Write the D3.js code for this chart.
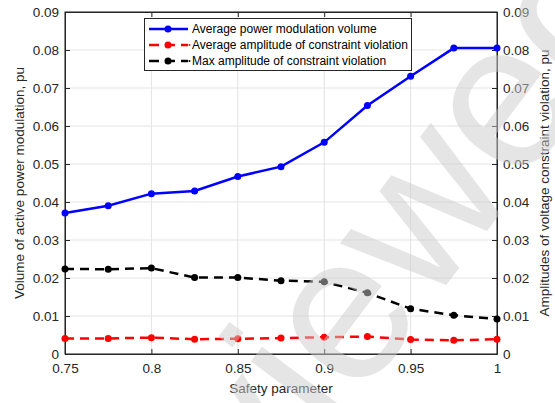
<!DOCTYPE html>
<html>
<head>
<meta charset="utf-8">
<script src="https://cdn.jsdelivr.net/npm/d3@7/dist/d3.min.js"></script>
<style>
    body { margin: 0; background: #fff; }
    svg { display: block; font-family: "Liberation Sans", Arial, sans-serif; }
    .grid line { stroke: #e3e3e3; stroke-width: 1px; }
    .tick text { fill: #262626; font-size: 13.5px; }
    .axis-title { fill: #262626; font-size: 13.5px; }
    .legend text { fill: #000; font-size: 12px; }
</style>
</head>
<body>
<div id="chart"></div>
<script>
var safety = [0.75, 0.775, 0.8, 0.825, 0.85, 0.875, 0.9, 0.925, 0.95, 0.975, 1];
var avgPower = [0.0371, 0.0390, 0.0422, 0.0429, 0.0467, 0.0493, 0.0557, 0.0654, 0.0731, 0.0805, 0.0805];
var avgViolation = [0.0041, 0.0041, 0.0043, 0.0039, 0.0040, 0.0042, 0.0044, 0.0046, 0.0038, 0.0036, 0.0039];
var maxViolation = [0.0224, 0.0223, 0.0226, 0.0201, 0.0201, 0.0193, 0.0190, 0.0161, 0.0119, 0.0102, 0.0092];
var xTicks = [0.75, 0.8, 0.85, 0.9, 0.95, 1];
var yTicks = [0, 0.01, 0.02, 0.03, 0.04, 0.05, 0.06, 0.07, 0.08, 0.09];
var seriesNames = ["Average power modulation volume", "Average amplitude of constraint violation", "Max amplitude of constraint violation"];

var width = 555, height = 403;
var margin = {top: 12, right: 58, bottom: 49, left: 65};
var w = width - margin.left - margin.right,
    h = height - margin.top - margin.bottom;

var svg = d3.select("#chart").append("svg")
    .attr("width", width)
    .attr("height", height);

var x = d3.scaleLinear().domain([0.75, 1]).range([margin.left, margin.left + w]);
var y = d3.scaleLinear().domain([0, 0.09]).range([margin.top + h, margin.top]);
var yRight = d3.scaleLinear().domain([0, 0.09]).range([margin.top + h, margin.top]);

var fmt = function (d) { return d === 0 ? "0" : d3.format("")(+d.toFixed(3)); };

// grid
var grid = svg.append("g").attr("class", "grid");
grid.selectAll(".gx").data(xTicks).enter().append("line")
    .attr("x1", function (d) { return x(d); }).attr("x2", function (d) { return x(d); })
    .attr("y1", margin.top).attr("y2", margin.top + h);
grid.selectAll(".gy").data(yTicks).enter().append("line")
    .attr("x1", margin.left).attr("x2", margin.left + w)
    .attr("y1", function (d) { return y(d); }).attr("y2", function (d) { return y(d); });

// axes
svg.append("g")
    .attr("transform", "translate(0," + (margin.top + h) + ")")
    .call(d3.axisBottom(x).tickValues(xTicks).tickFormat(fmt).tickSizeInner(-5).tickSizeOuter(0).tickPadding(9));
svg.append("g")
    .attr("transform", "translate(0," + margin.top + ")")
    .call(d3.axisTop(x).tickValues(xTicks).tickFormat("").tickSizeInner(-5).tickSizeOuter(0));
svg.append("g")
    .attr("transform", "translate(" + margin.left + ",0)")
    .call(d3.axisLeft(y).tickValues(yTicks).tickFormat(fmt).tickSizeInner(-5).tickSizeOuter(0).tickPadding(6));
svg.append("g")
    .attr("transform", "translate(" + (margin.left + w) + ",0)")
    .call(d3.axisRight(yRight).tickValues(yTicks).tickFormat(fmt).tickSizeInner(-5).tickSizeOuter(0).tickPadding(6));

svg.selectAll(".domain, .tick line").attr("stroke", "#262626");

// box
svg.append("rect")
    .attr("x", margin.left).attr("y", margin.top)
    .attr("width", w).attr("height", h)
    .attr("fill", "none").attr("stroke", "#262626").attr("stroke-width", 1);

// axis titles
svg.append("text").attr("class", "axis-title")
    .attr("x", margin.left + w / 2).attr("y", 393)
    .attr("text-anchor", "middle")
    .text("Safety parameter");
svg.append("text").attr("class", "axis-title")
    .attr("transform", "translate(24," + (margin.top + h / 2) + ") rotate(-90)")
    .attr("text-anchor", "middle")
    .text("Volume of active power modulation, pu");
svg.append("text").attr("class", "axis-title")
    .attr("transform", "translate(549," + (margin.top + h / 2) + ") rotate(-90)")
    .attr("text-anchor", "middle")
    .text("Amplitudes of voltage constraint violation, pu");

// series
var series = [
    {name: seriesNames[0], values: avgPower, scale: y, color: "#0000ff", dash: null},
    {name: seriesNames[1], values: avgViolation, scale: yRight, color: "#ff0000", dash: "9,6"},
    {name: seriesNames[2], values: maxViolation, scale: yRight, color: "#000000", dash: "9,6"}
];

series.forEach(function (s) {
    var line = d3.line()
        .x(function (d, i) { return x(safety[i]); })
        .y(function (d) { return s.scale(d); });
    svg.append("path")
        .datum(s.values)
        .attr("fill", "none")
        .attr("stroke", s.color)
        .attr("stroke-width", 2.5)
        .attr("stroke-dasharray", s.dash)
        .attr("d", line);
    svg.selectAll(null).data(s.values).enter().append("circle")
        .attr("cx", function (d, i) { return x(safety[i]); })
        .attr("cy", function (d) { return s.scale(d); })
        .attr("r", 3.5)
        .attr("fill", s.color);
});

// legend
var legend = svg.append("g").attr("class", "legend");
legend.append("rect")
    .attr("x", 144.5).attr("y", 18.5).attr("width", 267).attr("height", 52)
    .attr("fill", "#fff").attr("stroke", "#262626").attr("stroke-width", 1);
series.forEach(function (s, i) {
    var ly = 29 + i * 16;
    legend.append("line")
        .attr("x1", 149).attr("x2", 188).attr("y1", ly).attr("y2", ly)
        .attr("stroke", s.color).attr("stroke-width", 2.5)
        .attr("stroke-dasharray", s.dash ? "10,6" : null);
    legend.append("circle").attr("cx", 168).attr("cy", ly).attr("r", 3.5).attr("fill", s.color);
    if (i > 0) {
        legend.append("circle").attr("cx", 189.5).attr("cy", ly).attr("r", 1).attr("fill", s.color);
    }
    legend.append("text").attr("x", 192).attr("y", ly + 4).text(s.name);
});

// watermark
svg.append("text")
    .attr("transform", "translate(108,734) rotate(-53)")
    .attr("font-size", 208)
    .attr("fill", "#cccccc")
    .attr("opacity", 0.5)
    .text("Reviewed");
</script>
</body>
</html>
